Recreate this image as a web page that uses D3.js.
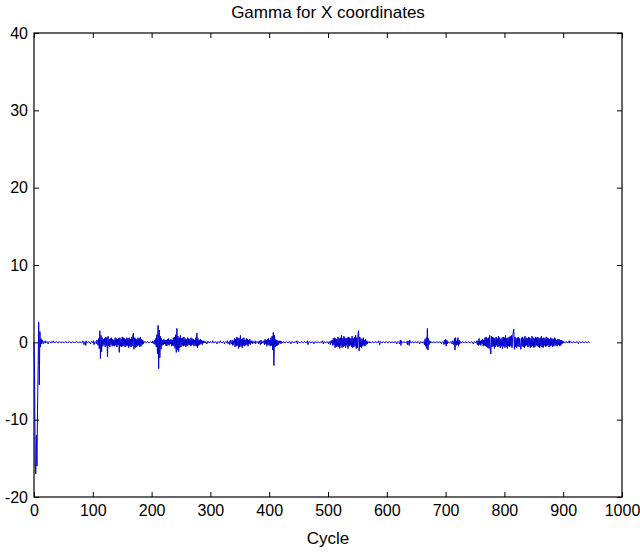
<!DOCTYPE html>
<meta charset="utf-8">
<head>
    <script src="https://d3js.org/d3.v7.min.js"></script>
    <style>
        body {
            margin: 0;
            background: #fff;
        }

        text {
            font-family: "Liberation Sans", Arial, Helvetica, sans-serif;
            fill: #000;
        }

        .tick line {
            stroke: #000;
        }

        .domain {
            display: none;
        }
    </style>
    <title>Gamma for X coordinates</title>
</head>
<body>

<svg id="chart" width="640" height="554"></svg>

<script>

    var title = "Gamma for X coordinates";
    var xLabel = "Cycle";
    var xTicks = [0, 100, 200, 300, 400, 500, 600, 700, 800, 900, 1000];
    var yTicks = [-20, -10, 0, 10, 20, 30, 40];

    // gamma value for each cycle, starting at cycle 0 (20 per row)
    var gamma = [
        0, -4, -15.5, -17, -12, -16, -9, -3, 2.6, -5.5, 1.4, -0.6, 0.5, -0.2, 0.3, 0, -0.2, 0.1, 0, 0.2,
        -0.1, 0, 0.1, 0, -0.2, 0, 0.1, 0, 0, -0.1, 0.1, 0, 0, 0.2, 0, -0.1, 0, 0, 0.1, 0,
        0, -0.1, 0, 0.1, 0, 0, -0.1, 0, 0.1, 0, 0, 0, -0.1, 0, 0.1, 0, 0, -0.1, 0, 0,
        0.1, 0, 0, -0.1, 0, 0, 0.1, 0, 0, -0.1, 0, 0, 0.1, 0, 0, 0, -0.1, 0, 0.1, 0,
        0, -0.1, 0, 0.2, 0, -0.3, 0, 0.1, -0.4, 0.2, 0, -0.1, 0, 0.1, 0, 0, -0.2, 0, 0.1, 0,
        0, 0.2, -0.3, 0, 0.1, 0, -0.2, 0.3, 0, -0.4, 0.5, -0.8, 1.5, -2.1, 0.9, -1.2, 0.6, -0.5, 0.4, -0.3,
        0.5, -0.6, 0.7, -0.4, 0.6, -1.9, 0.8, -0.5, 0.4, -0.6, 0.5, -0.3, 0.6, -0.5, 0.4, -0.4, 0.3, -0.5, 0.6, -0.4,
        0.5, -0.6, 0.4, -0.3, 0.5, -1.3, 0.6, -0.5, 0.4, -0.6, 0.7, -0.5, 0.6, -0.4, 0.5, -0.6, 0.4, -0.5, 0.6, -0.4,
        0.5, -0.7, 0.6, -0.5, 0.4, -0.6, 0.7, -0.5, 0.8, 1.2, -0.9, 0.6, -0.7, 0.5, -0.6, 0.4, -0.5, 0.6, -0.4, 0.5,
        -0.6, 0.7, -0.5, 0.4, -0.3, 0.3, -0.2, 0.1, 0, 0.1, 0, -0.1, 0, 0.1, 0, 0, -0.1, 0, 0.1, 0,
        0, -0.1, 0.2, 0, -0.2, 0.3, -0.3, 0.5, -0.6, 1.0, -1.5, 2.2, -3.4, 1.6, -2.0, 0.8, -0.9, 0.5, -0.4, 0.3,
        -0.3, 0.4, -0.2, 0.3, -0.4, 0.3, -0.5, 0.4, -0.3, 0.5, -0.4, 0.3, -0.2, 0.4, -0.5, 0.3, -0.4, 0.6, -0.5, 0.7,
        -0.8, 1.0, -1.3, 1.8, -1.0, 0.8, -1.2, 0.6, -0.7, 0.9, -0.6, 0.5, -0.4, 0.6, -0.5, 0.7, -0.4, 0.5, -0.6, 0.4,
        -0.5, 0.6, -0.4, 0.5, -0.3, 0.4, -0.5, 0.6, -0.4, 0.5, -0.3, 0.4, -0.5, 0.3, -0.4, 0.6, -0.5, 1.2, -0.7, 0.5,
        -0.4, 0.3, -0.3, 0.4, -0.2, 0.3, -0.3, 0.2, -0.1, 0.2, 0, -0.1, 0.1, 0, -0.2, 0.1, 0, 0.1, -0.1, 0,
        0.1, 0, -0.1, 0, 0.2, 0, -0.1, 0, 0.1, 0, 0, -0.2, 0, 0.1, 0, -0.1, 0, 0.2, 0, 0,
        -0.1, 0, 0.1, 0, -0.2, 0, 0.1, 0, 0, 0.2, -0.2, 0, 0.1, -0.3, 0.3, 0, -0.2, 0.3, -0.4, 0.2,
        -0.3, 0.5, -0.6, 0.4, -0.5, 0.7, -0.4, 0.6, -0.8, 0.5, -0.6, 0.9, -0.5, 0.4, -0.7, 0.5, -0.4, 0.6, -0.5, 0.3,
        -0.4, 0.5, -0.3, 0.4, -0.5, 0.3, -0.2, 0.4, -0.3, 0.2, -0.1, 0.2, -0.2, 0.1, 0, -0.1, 0.2, -0.2, 0.1, 0,
        0, 0.1, -0.2, 0.2, 0, -0.3, 0.3, -0.2, 0.1, 0, -0.1, 0.2, -0.3, 0.4, -0.2, 0.3, -0.5, 0.4, -0.3, 0.5,
        -0.4, 0.3, -0.5, 0.6, -0.4, 0.8, -1.0, 1.3, -3.0, 0.9, -0.6, 0.4, -0.5, 0.3, -0.4, 0.2, -0.3, 0.2, -0.1, 0.2,
        -0.2, 0.1, 0, -0.1, 0.1, 0, 0, -0.1, 0, 0.1, 0, 0, -0.1, 0, 0.1, 0, 0, -0.2, 0, 0.1,
        0, 0, -0.1, 0, 0.1, 0, 0, 0.2, -0.2, 0, 0.1, 0, 0, -0.1, 0, 0.1, 0, 0, -0.1, 0,
        0.1, 0, 0, -0.1, 0, 0.2, -0.3, 0, 0.1, 0, 0, -0.1, 0, 0.1, 0, 0, -0.2, 0, 0.1, 0,
        0, -0.1, 0, 0.1, 0, 0, -0.1, 0, 0.1, 0, 0, 0.2, -0.2, 0, 0.1, 0, -0.1, 0, 0.1, 0,
        0, -0.2, 0.1, 0, -0.3, 0.2, -0.1, 0.3, -0.4, 0.5, -0.3, 0.6, -0.7, 0.5, -0.6, 0.4, -0.5, 0.7, -0.6, 0.5,
        -0.8, 0.6, -0.5, 0.9, -0.7, 0.5, -0.6, 0.8, -0.5, 0.6, -0.7, 0.5, -0.4, 0.6, -0.8, 0.7, -0.5, 0.6, -0.4, 0.5,
        -0.6, 0.8, -0.7, 0.5, -0.6, 0.7, -0.5, 0.9, -0.8, 0.6, -0.7, 1.0, 1.5, -1.1, 0.7, -0.6, 0.5, -0.7, 0.4, -0.5,
        0.6, -0.4, 0.3, -0.5, 0.4, -0.3, 0.2, -0.2, 0.1, 0, -0.1, 0.1, 0, 0, -0.1, 0, 0.1, 0, 0, -0.1,
        0, 0.1, 0, 0, -0.1, 0, 0.2, 0, -0.3, 0.1, 0, 0, -0.1, 0, 0.1, 0, 0, -0.1, 0, 0.1,
        0, 0, -0.1, 0, 0.1, 0, 0, -0.1, 0, 0.1, 0, 0, -0.1, 0, 0.1, 0, 0, -0.2, 0, 0.1,
        0, 0, -0.2, 0.3, -0.4, 0.2, 0, -0.1, 0, 0.1, 0, 0, -0.1, 0, 0.1, -0.3, 0.2, 0, -0.4, 0.3,
        0, -0.1, 0, 0.1, 0, 0, -0.1, 0, 0.1, 0, 0, -0.1, 0, 0.1, 0, 0, -0.2, 0, 0.1, 0,
        0, -0.1, 0.1, 0, -0.3, 0.4, -0.5, 0.6, -0.8, 1.8, -1.0, 0.5, -0.3, 0.2, -0.1, 0.1, 0, 0, -0.1, 0,
        0.1, 0, 0, -0.1, 0, 0.1, 0, 0, -0.1, 0, 0.1, 0, 0, -0.2, 0, 0.1, 0, -0.3, 0.3, -0.2,
        0.4, -0.5, 0.3, -0.2, 0.1, 0, 0, -0.1, 0, 0.1, 0, -0.2, 0.2, 0, -0.3, 0.5, -1.0, 0.6, -0.4, 0.2,
        -0.3, 0.6, -0.5, 0.3, -0.2, 0.1, 0, -0.1, 0, 0.1, 0, 0, -0.1, 0, 0.1, 0, 0, -0.1, 0, 0.1,
        0, 0, -0.1, 0, 0.1, 0, 0, -0.2, 0, 0.1, 0, -0.1, 0, 0.2, -0.3, 0.2, -0.4, 0.5, -0.3, 0.2,
        -0.4, 0.3, -0.2, 0.4, -0.5, 0.3, -0.4, 0.6, -0.5, 0.7, -0.6, 0.5, -0.7, 0.6, -0.8, 0.9, -1.0, -1.5, 0.8, -0.6,
        0.7, -0.5, 0.6, -0.8, 0.5, -0.6, 0.7, -0.4, 0.5, -0.6, 0.8, -0.5, 0.6, -0.7, 0.4, -0.5, 0.6, -0.8, 0.7, -0.5,
        0.6, -0.7, 0.9, -0.6, 0.5, -0.8, 0.6, -0.5, 0.7, -0.6, 0.8, -0.5, 0.9, -0.7, 0.6, 1.3, 1.7, -0.9, 0.7, -0.6,
        0.5, -0.7, 0.6, -0.5, 0.7, -0.6, 0.5, -0.4, -0.9, 0.6, -0.5, 0.7, -0.6, 0.5, -0.7, 0.8, -0.5, 0.6, -0.4, 0.5,
        -0.6, 0.7, -0.5, 0.6, -0.7, 0.5, -0.6, 0.8, -0.5, 0.6, -0.7, 0.5, -0.6, 0.7, -0.4, 0.6, -0.5, 0.7, -0.6, 0.5,
        -0.7, 0.6, -0.5, 0.8, -0.6, 0.5, -0.7, 0.6, -0.4, 0.5, -0.6, 0.7, -0.5, 0.6, -0.4, 0.5, -0.6, 0.4, -0.5, 0.6,
        -0.4, 0.5, -0.6, 0.4, -0.5, 0.6, -0.4, 0.5, -0.4, 0.3, -0.5, 0.4, -0.3, 0.4, -0.5, 0.3, -0.4, 0.3, -0.2, 0.2,
        -0.1, 0.1, 0, -0.1, 0, 0.1, 0, 0, -0.1, 0, 0.2, -0.1, 0, 0.1, 0, 0, -0.1, 0, 0.1, 0,
        0, -0.1, 0, 0.1, 0, 0, -0.2, 0, 0.1, 0, 0, -0.1, 0, 0.1, 0, 0, -0.1, 0, 0.1, 0,
        0, -0.1, 0, 0.1, 0, 0
    ];

    var svg = d3.select("#chart"),
        margin = {top: 33, right: 18, bottom: 57, left: 34},
        width = +svg.attr("width") - margin.left - margin.right,
        height = +svg.attr("height") - margin.top - margin.bottom,
        g = svg.append("g").attr("transform", "translate(" + margin.left + "," + margin.top + ")");

    var x = d3.scaleLinear().domain([0, 1000]).range([0, width]);
    var y = d3.scaleLinear().domain([-20, 40]).range([height, 0]);

    // plain hyphen minus, as in the original figure
    var plain = function (d) { return String(d); };

    // ticks point inward on all four sides, like a boxed matlab axes
    g.append("g")
        .attr("transform", "translate(0," + height + ")")
        .call(d3.axisBottom(x).tickValues(xTicks).tickFormat(plain)
            .tickSizeInner(-5).tickSizeOuter(0).tickPadding(8))
        .selectAll("text").style("font-size", "16px");

    g.append("g")
        .call(d3.axisTop(x).tickValues(xTicks).tickSizeInner(-5).tickSizeOuter(0).tickFormat(""));

    g.append("g")
        .call(d3.axisLeft(y).tickValues(yTicks).tickFormat(plain)
            .tickSizeInner(-5).tickSizeOuter(0).tickPadding(6))
        .selectAll("text").style("font-size", "16px");

    g.append("g")
        .attr("transform", "translate(" + width + ",0)")
        .call(d3.axisRight(y).tickValues(yTicks).tickSizeInner(-5).tickSizeOuter(0).tickFormat(""));

    g.append("rect")
        .attr("width", width)
        .attr("height", height)
        .attr("fill", "none")
        .attr("stroke", "#000")
        .attr("stroke-width", 1.2);

    var line = d3.line()
        .x(function (d, i) { return x(i); })
        .y(function (d) { return y(d); });

    g.append("path")
        .datum(gamma)
        .attr("fill", "none")
        .attr("stroke", "#0000d0")
        .attr("stroke-width", 1)
        .attr("d", line);

    svg.append("text")
        .attr("x", margin.left + width / 2)
        .attr("y", 18)
        .attr("text-anchor", "middle")
        .style("font-size", "17px")
        .text(title);

    svg.append("text")
        .attr("x", margin.left + width / 2)
        .attr("y", margin.top + height + 47)
        .attr("text-anchor", "middle")
        .style("font-size", "17px")
        .text(xLabel);

</script>
</body>
